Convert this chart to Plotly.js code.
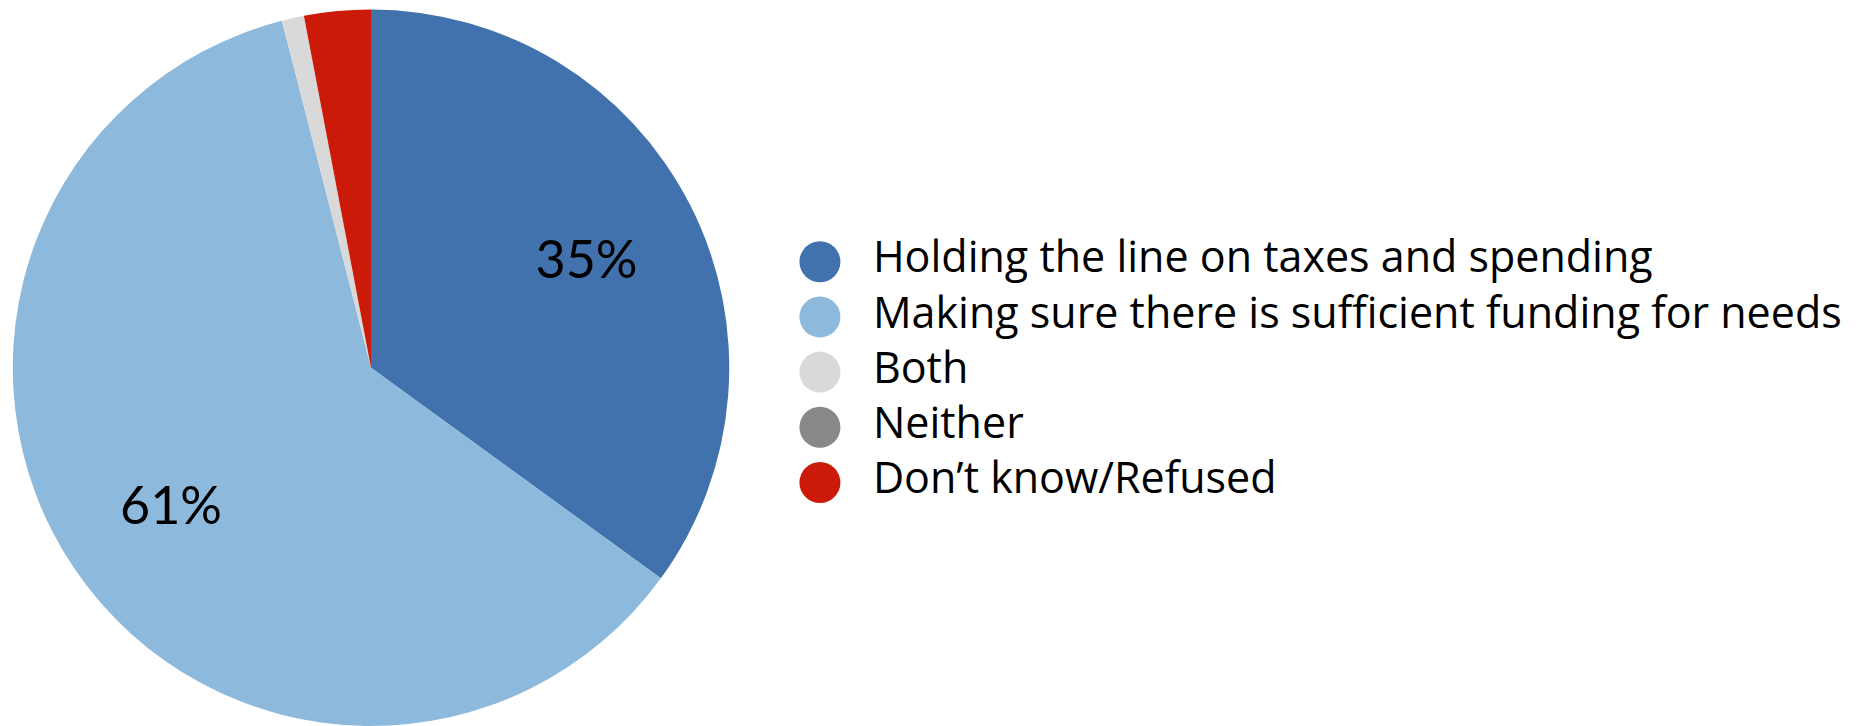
<!DOCTYPE html>
<html>
<head>
<meta charset="utf-8">
<script src="https://cdn.plot.ly/plotly-3.0.1.min.js"></script>
<style>
  html, body { margin: 0; padding: 0; background: #ffffff; }
  #chart { width: 1866px; height: 726px; }
</style>
</head>
<body>
<div id="chart"></div>
<script>
// ---- Data ----
var categories = [
  "Holding the line on taxes and spending",
  "Making sure there is sufficient funding for needs",
  "Both",
  "Neither",
  "Don\u2019t know/Refused"
];
var values = [35, 61, 1, 0, 3];
var sliceLabels = ["35%", "61%", "", "", ""];
var colors = ["#4172ad", "#8db9dc", "#d9d9d9", "#888888", "#cc1a08"];

var pieDomain = { x: [0.00681, 0.39084], y: [0, 0.9869] };

var traces = [
  {
    type: "pie",
    labels: categories,
    values: values,
    sort: false,
    direction: "clockwise",
    rotation: 0,
    marker: { colors: colors, line: { width: 0 } },
    textinfo: "none",
    hoverinfo: "label+percent",
    showlegend: false,
    domain: pieDomain
  },
  {
    type: "pie",
    labels: categories,
    values: values,
    sort: false,
    direction: "clockwise",
    rotation: 0,
    hole: 0.35,
    marker: { colors: categories.map(function () { return "rgba(0,0,0,0)"; }), line: { width: 0 } },
    text: sliceLabels,
    textinfo: "text",
    textposition: "inside",
    insidetextorientation: "horizontal",
    insidetextfont: { family: "Lato, 'DejaVu Sans', sans-serif", size: 52, color: "#000000" },
    hoverinfo: "skip",
    showlegend: false,
    domain: pieDomain
  },
  {
    type: "scatter",
    mode: "markers",
    x: categories.map(function () { return 0; }),
    y: categories,
    marker: { size: 41, color: colors, symbol: "circle", line: { width: 0 } },
    cliponaxis: false,
    hoverinfo: "skip",
    showlegend: false,
    xaxis: "x",
    yaxis: "y"
  },
  {
    type: "scatter",
    mode: "text",
    x: categories.map(function () { return 1; }),
    y: categories,
    text: categories,
    textposition: "middle right",
    textfont: { family: "'Open Sans', 'Liberation Sans', sans-serif", size: 43, color: "#000000" },
    cliponaxis: false,
    hoverinfo: "skip",
    showlegend: false,
    xaxis: "x",
    yaxis: "y"
  }
];

var layout = {
  width: 1866,
  height: 726,
  margin: { l: 0, r: 0, t: 0, b: 0 },
  paper_bgcolor: "#ffffff",
  plot_bgcolor: "rgba(0,0,0,0)",
  showlegend: false,
  uniformtext: { mode: "show", minsize: 52 },
  xaxis: {
    domain: [0.4394, 0.4678],
    range: [0, 1],
    visible: false,
    fixedrange: true
  },
  yaxis: {
    domain: [0.2974, 0.6775],
    type: "category",
    categoryorder: "array",
    categoryarray: categories,
    range: [4.5, -0.5],
    visible: false,
    fixedrange: true
  }
};

Plotly.newPlot("chart", traces, layout, { displayModeBar: false, staticPlot: true });
</script>
</body>
</html>
